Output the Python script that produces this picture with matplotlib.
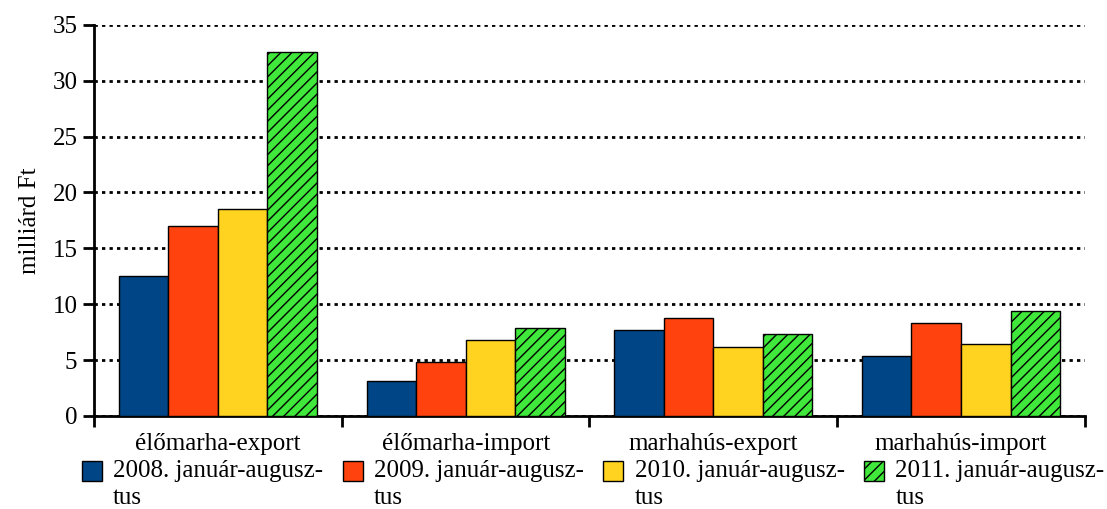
import numpy as np
import matplotlib.pyplot as plt
from matplotlib.patches import Rectangle
from matplotlib.container import BarContainer
from matplotlib.legend_handler import HandlerPatch

plt.rcParams['font.family'] = ['Liberation Serif', 'DejaVu Serif']
plt.rcParams['hatch.linewidth'] = 1.0

categories = ['élőmarha-export', 'élőmarha-import', 'marhahús-export', 'marhahús-import']
series = ['2008. január-augusz-\ntus', '2009. január-augusz-\ntus',
          '2010. január-augusz-\ntus', '2011. január-augusz-\ntus']
v2008 = [12.5, 3.1, 7.7, 5.4]
v2009 = [17.0, 4.8, 8.8, 8.3]
v2010 = [18.5, 6.8, 6.2, 6.4]
v2011 = [32.6, 7.9, 7.3, 9.4]

colors = ['#004586', '#ff420e', '#ffd320', '#3fe83a']
hatches = [None, None, None, '///']

fig = plt.figure(figsize=(11.07, 5.09), dpi=100)
ax = fig.add_axes([0.085, 0.183, 0.895, 0.768])

x = np.arange(len(categories))
w = 0.2
for i, (vals, c, h, lab) in enumerate(zip([v2008, v2009, v2010, v2011], colors, hatches, series)):
    ax.bar(x + (i - 1.5) * w, vals, width=w, color=c, edgecolor='black',
           linewidth=1, hatch=h, label=lab, zorder=3)

ax.set_xlim(-0.5, 3.5)
ax.set_ylim(0, 35)
ax.set_yticks(np.arange(0, 36, 5))
ax.yaxis.grid(True, color='black', linestyle=(0, (1.2, 1.5)), linewidth=2, zorder=0)
ax.set_axisbelow(True)

ax.set_xticks(np.arange(-0.5, 3.6, 1))
ax.set_xticklabels([])
ax.set_xticks(x, minor=True)
ax.set_xticklabels(categories, minor=True, fontsize=18)
ax.tick_params(axis='x', which='minor', length=0, pad=12)
ax.tick_params(axis='x', which='major', length=8, width=2, direction='out')
ax.tick_params(axis='y', length=8, width=2, direction='out', labelsize=18, pad=4)

for s in ['top', 'right']:
    ax.spines[s].set_visible(False)
for s in ['left', 'bottom']:
    ax.spines[s].set_linewidth(2)

ax.set_ylabel('milliárd Ft', fontsize=18, labelpad=8)


# square key sitting next to the first line of a two-line label
def top_square(legend, orig_handle, xdescent, ydescent, width, height, fontsize):
    s = 20 * 72 / 100
    return Rectangle((-xdescent, -ydescent + height - s + 3), s, s)


def from_first_bar(handle, orig):
    handle.update_from(orig.patches[0])


leg = fig.legend(loc='lower left', bbox_to_anchor=(0.074, 0.0), ncol=4, frameon=False,
                 fontsize=18, handlelength=0.8, handleheight=2.1, columnspacing=0.78,
                 handletextpad=0.45, borderaxespad=0, borderpad=0,
                 handler_map={BarContainer: HandlerPatch(patch_func=top_square,
                                                         update_func=from_first_bar)})
for t in leg.get_texts():
    t.set_linespacing(1.3)

fig.savefig('out.png', dpi=100)
